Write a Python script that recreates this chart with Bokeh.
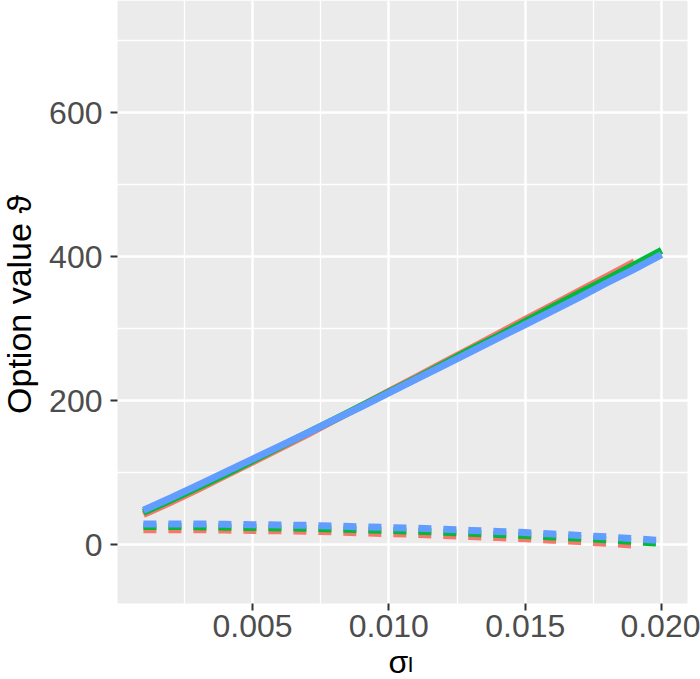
from bokeh.plotting import figure
from bokeh.models import FixedTicker, Range1d, Label, BoxAnnotation
from bokeh.embed import file_html
from bokeh.resources import INLINE

# ---- data ----
sigma = [0.001, 0.002, 0.003, 0.004, 0.005, 0.006, 0.007, 0.008, 0.009, 0.010,
         0.011, 0.012, 0.013, 0.014, 0.015, 0.016, 0.017, 0.018, 0.019, 0.020]

red_solid = [42, 59, 77, 96, 115, 134, 153, 173, 193, 213,
             233, 253, 273, 293, 313, 333, 353, 373, 393]
green_solid = [45, 62, 80, 98, 117, 136, 155, 174, 193, 212,
               231, 251, 271, 290, 310, 330, 350, 369, 389, 409]
blue_solid = [48, 65, 83, 101, 119, 137, 155, 174, 192, 211,
              230, 249, 268, 287, 306, 325, 344, 364, 383, 403]

red_dashed = [21, 21, 21, 20.5, 20, 19.5, 19, 18, 16.5, 15.5,
              14.5, 13, 11.5, 10, 8.5, 6.5, 4.5, 2, -0.5]
green_dashed = [25.5, 25.5, 25, 24.5, 24, 23.5, 23, 22, 21, 20,
                19, 17.5, 16, 14.5, 13, 11, 9, 7, 4.5, 2]
blue_dashed = [29, 29, 29, 28.5, 28, 27.5, 27, 26, 25, 24,
               23, 21.5, 20, 18.5, 17, 15, 13, 11, 8.5, 6]

x_ticks = [0.005, 0.010, 0.015, 0.020]
x_tick_labels = ["0.005", "0.010", "0.015", "0.020"]
x_minor = [0.0025, 0.0075, 0.0125, 0.0175]
y_ticks = [0, 200, 400, 600]
y_tick_labels = ["0", "200", "400", "600"]
y_minor = [100, 300, 500, 700]

x_title = "σ"
x_title_sub = "I"
y_title = "Option value ϑ"

colors = ["#F8766D", "#00BA38", "#619CFF"]

FONT = "Liberation Sans"

# ---- layout (pixels) ----
W, H = 700, 679
PANEL_L, PANEL_R, PANEL_B = 117, 687, 603   # grey panel edges (top = 0)

# panel data limits (ggplot-style 5 % expansion)
X0, X1 = 0.00005, 0.02095
Y0, Y1 = -81.5, 756

sx = (X1 - X0) / (PANEL_R - PANEL_L)
sy = (Y1 - Y0) / PANEL_B
x_lo, x_hi = X0 - PANEL_L * sx, X1 + (W - PANEL_R) * sx
y_lo, y_hi = Y0 - (H - PANEL_B) * sy, Y1

p = figure(width=W, height=H, output_backend="svg", toolbar_location=None,
           x_range=Range1d(x_lo, x_hi), y_range=Range1d(y_lo, y_hi),
           min_border_left=0, min_border_right=0, min_border_top=0,
           min_border_bottom=0)

p.background_fill_color = "white"
p.border_fill_color = "white"
p.outline_line_color = None

# grey panel
p.add_layout(BoxAnnotation(left=X0, right=X1, bottom=Y0, top=Y1,
                           fill_color="#EBEBEB", fill_alpha=1.0,
                           line_color=None, level="image"))

p.xaxis.ticker = FixedTicker(ticks=x_ticks, minor_ticks=x_minor)
p.yaxis.ticker = FixedTicker(ticks=y_ticks, minor_ticks=y_minor)
p.xaxis.major_label_overrides = {t: l for t, l in zip(x_ticks, x_tick_labels)}
p.yaxis.major_label_overrides = {t: l for t, l in zip(y_ticks, y_tick_labels)}
p.xaxis.fixed_location = Y0
p.yaxis.fixed_location = X0

for ax in (p.xaxis, p.yaxis):
    ax.axis_line_color = None
    ax.major_tick_line_color = "#333333"
    ax.major_tick_line_width = 2
    ax.major_tick_out = 7
    ax.major_tick_in = 0
    ax.minor_tick_out = 0
    ax.minor_tick_in = 0
    ax.major_label_text_font = FONT
    ax.major_label_text_font_size = "32px"
    ax.major_label_text_color = "#4D4D4D"

p.xaxis.major_label_standoff = 4
p.yaxis.major_label_standoff = 8

for g in (p.xgrid, p.ygrid):
    g.grid_line_color = "white"
    g.grid_line_width = 2.5
    g.minor_grid_line_color = "white"
    g.minor_grid_line_width = 1.3

solids = [red_solid, green_solid, blue_solid]
dashes = [red_dashed, green_dashed, blue_dashed]
for ys, c in zip(solids, colors):
    p.line(sigma[:len(ys)], ys, line_color=c, line_width=7, line_join="round")
for ys, c in zip(dashes, colors):
    p.line(sigma[:len(ys)], ys, line_color=c, line_width=7, line_dash="13 12")

# axis titles
p.add_layout(Label(x=X0, y=(Y0 + Y1) / 2, x_offset=-99, y_offset=-2.5,
                   angle=90, angle_units="deg",
                   text=y_title, text_font=FONT, text_font_size="34px",
                   text_color="black", text_align="center",
                   text_baseline="alphabetic"))
p.add_layout(Label(x=X0, y=Y0, x_offset=271, y_offset=-58,
                   text=x_title, text_font=FONT, text_font_size="32px",
                   text_color="black", text_align="left",
                   text_baseline="alphabetic"))
p.add_layout(Label(x=X0, y=Y0, x_offset=290, y_offset=-61,
                   text=x_title_sub, text_font=FONT, text_font_size="22px",
                   text_color="black", text_align="left",
                   text_baseline="alphabetic"))

open("out.html", "w").write(file_html(p, INLINE))
